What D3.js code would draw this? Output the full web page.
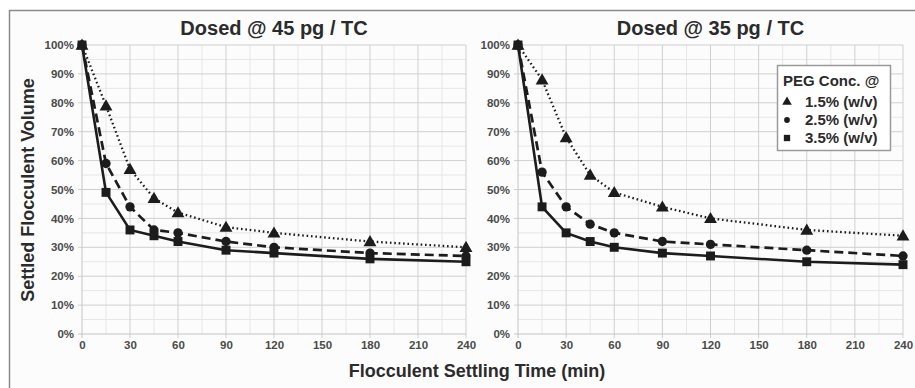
<!DOCTYPE html>
<html>
<head>
<meta charset="utf-8">
<script src="https://cdn.jsdelivr.net/npm/d3@7"></script>
<style>
  body { margin: 0; background: #fff; }
  svg { display: block; font-family: "Liberation Sans", Arial, sans-serif; font-weight: bold; }
</style>
</head>
<body>
<div class="chart"></div>
<script>
// data
var times = [0, 15, 30, 45, 60, 90, 120, 180, 240];
var seriesNames = ["1.5% (w/v)", "2.5% (w/v)", "3.5% (w/v)"];
var panelTitles = ["Dosed @ 45 pg / TC", "Dosed @ 35 pg / TC"];
var xTicks = [0, 30, 60, 90, 120, 150, 180, 210, 240];
var yTicks = [0, 10, 20, 30, 40, 50, 60, 70, 80, 90, 100];

var dose45_peg15 = [100, 79, 57, 47, 42, 37, 35, 32, 30];
var dose45_peg25 = [100, 59, 44, 36, 35, 32, 30, 28, 27];
var dose45_peg35 = [100, 49, 36, 34, 32, 29, 28, 26, 25];

var dose35_peg15 = [100, 88, 68, 55, 49, 44, 40, 36, 34];
var dose35_peg25 = [100, 56, 44, 38, 35, 32, 31, 29, 27];
var dose35_peg35 = [100, 44, 35, 32, 30, 28, 27, 25, 24];

(function() {
  var width = 915, height = 388;

  var panelData = [
    [dose45_peg15, dose45_peg25, dose45_peg35],
    [dose35_peg15, dose35_peg25, dose35_peg35]
  ];

  var ink = "#1c1c1c";
  var dashes = ["1.6,2.8", "9,5", null];
  var widths = [2.3, 2.7, 2.6];
  var shapes = [d3.symbolTriangle, d3.symbolCircle, d3.symbolSquare];
  var sizes = [72, 68, 80];

  var svg = d3.select(".chart").append("svg")
    .attr("width", width)
    .attr("height", height);

  svg.append("rect").attr("width", width).attr("height", height).attr("fill", "#fff");
  svg.append("rect").attr("x", 9).attr("y", 10).attr("width", width).attr("height", height)
    .attr("fill", "#fcfcfc");

  // frame: only top and left edges show
  svg.append("path")
    .attr("d", "M9.5," + height + "V10.5H" + width)
    .attr("fill", "none").attr("stroke", "#8a8a8a").attr("stroke-width", 1.5);

  var panels = [{ x0: 82, x1: 466 }, { x0: 518, x1: 903 }];
  var yTop = 45, yBottom = 334;

  panels.forEach(function(p, pi) {
    var x = d3.scaleLinear().domain([0, 240]).range([p.x0, p.x1]);
    var y = d3.scaleLinear().domain([0, 100]).range([yBottom, yTop]);
    var g = svg.append("g");

    // minor grid
    g.append("g").selectAll("line").data(d3.range(15, 241, 30)).enter().append("line")
      .attr("x1", function(d) { return x(d); }).attr("x2", function(d) { return x(d); })
      .attr("y1", yTop).attr("y2", yBottom).attr("stroke", "#e6e6e6").attr("stroke-width", 1);
    g.append("g").selectAll("line").data(d3.range(5, 100, 10)).enter().append("line")
      .attr("x1", p.x0).attr("x2", p.x1)
      .attr("y1", function(d) { return y(d); }).attr("y2", function(d) { return y(d); })
      .attr("stroke", "#e6e6e6").attr("stroke-width", 1);

    // major grid
    g.append("g").selectAll("line").data(xTicks.slice(1)).enter().append("line")
      .attr("x1", function(d) { return x(d); }).attr("x2", function(d) { return x(d); })
      .attr("y1", yTop).attr("y2", yBottom + 4).attr("stroke", "#cfcfcf").attr("stroke-width", 1);
    g.append("g").selectAll("line").data(yTicks.slice(1)).enter().append("line")
      .attr("x1", p.x0 - 4).attr("x2", p.x1)
      .attr("y1", function(d) { return y(d); }).attr("y2", function(d) { return y(d); })
      .attr("stroke", "#cfcfcf").attr("stroke-width", 1);

    // axis lines
    g.append("line").attr("x1", p.x0).attr("x2", p.x0).attr("y1", yTop).attr("y2", yBottom + 4)
      .attr("stroke", "#c4c4c4");
    g.append("line").attr("x1", p.x0 - 4).attr("x2", p.x1).attr("y1", yBottom).attr("y2", yBottom)
      .attr("stroke", "#c4c4c4");

    // tick labels
    var xAxis = d3.axisBottom(x).tickValues(xTicks).tickSize(0).tickPadding(7);
    var yAxis = d3.axisLeft(y).tickValues(yTicks).tickSize(0).tickPadding(8)
      .tickFormat(function(d) { return d + "%"; });

    var xa = g.append("g").attr("transform", "translate(0," + yBottom + ")").call(xAxis);
    var ya = g.append("g").attr("transform", "translate(" + p.x0 + ",0)").call(yAxis);
    [xa, ya].forEach(function(a) {
      a.select(".domain").remove();
      a.selectAll("text").attr("fill", "#4a4a4a")
        .style("font-family", "Liberation Sans, Arial, sans-serif")
        .style("font-weight", "bold").style("font-size", "11.5px");
    });

    // title
    g.append("text")
      .attr("x", (p.x0 + p.x1) / 2).attr("y", 35)
      .attr("text-anchor", "middle")
      .attr("font-size", "20px").attr("fill", "#2b2b2b")
      .text(panelTitles[pi]);

    // series lines then markers
    var line = d3.line()
      .x(function(d, i) { return x(times[i]); })
      .y(function(d) { return y(d); });

    panelData[pi].forEach(function(vals, si) {
      g.append("path")
        .datum(vals)
        .attr("d", line)
        .attr("fill", "none")
        .attr("stroke", ink)
        .attr("stroke-width", widths[si])
        .attr("stroke-dasharray", dashes[si]);
    });
    panelData[pi].forEach(function(vals, si) {
      g.append("g").selectAll("path").data(vals).enter().append("path")
        .attr("d", d3.symbol().type(shapes[si]).size(sizes[si]))
        .attr("transform", function(d, i) {
          return "translate(" + x(times[i]) + "," + (y(d) + (si === 0 ? 1 : 0)) + ")";
        })
        .attr("fill", ink);
    });
  });

  // axis titles
  svg.append("text")
    .attr("x", 477).attr("y", 377)
    .attr("text-anchor", "middle")
    .attr("font-size", "18px").attr("fill", "#2b2b2b")
    .text("Flocculent Settling Time (min)");

  svg.append("text")
    .attr("transform", "translate(34,190) rotate(-90)")
    .attr("text-anchor", "middle")
    .attr("font-size", "18px").attr("fill", "#2b2b2b")
    .text("Settled Flocculent Volume");

  // legend
  var legend = svg.append("g").attr("transform", "translate(777,65)");
  legend.append("rect")
    .attr("x", 0.5).attr("y", 0.5).attr("width", 113).attr("height", 85)
    .attr("fill", "#fff").attr("stroke", "#9a9a9a").attr("stroke-width", 1.5);
  legend.append("text")
    .attr("x", 6).attr("y", 21)
    .attr("font-size", "15px").attr("fill", "#2b2b2b")
    .text("PEG Conc. @");
  var items = legend.selectAll(".item").data(seriesNames).enter().append("g")
    .attr("class", "item")
    .attr("transform", function(d, i) { return "translate(0," + (42 + i * 18) + ")"; });
  items.append("path")
    .attr("d", function(d, i) { return d3.symbol().type(shapes[i]).size([40, 26, 40][i])(); })
    .attr("transform", "translate(10,-5)")
    .attr("fill", ink);
  items.append("text")
    .attr("x", 28).attr("y", 0)
    .attr("font-size", "15px").attr("fill", "#2b2b2b")
    .text(function(d) { return d; });
})();
</script>
</body>
</html>
